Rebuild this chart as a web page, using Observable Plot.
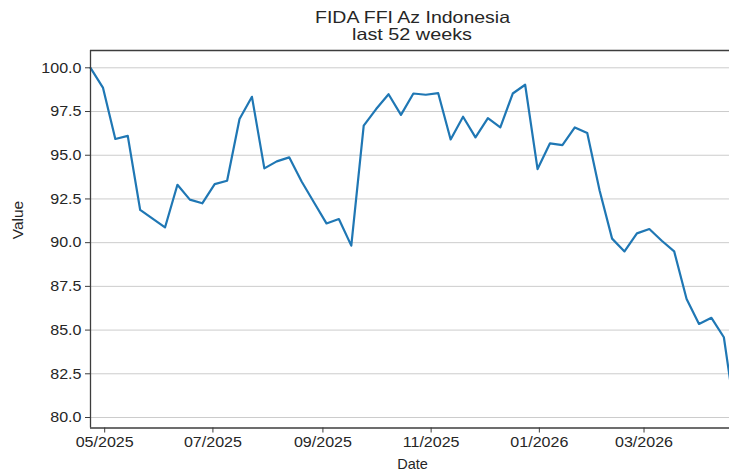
<!DOCTYPE html>
<html><head><meta charset="utf-8">
<script src="https://cdn.jsdelivr.net/npm/d3@7"></script>
<script src="https://cdn.jsdelivr.net/npm/@observablehq/plot@0.6"></script>
<style>
html,body{margin:0;padding:0;background:#fff;overflow:hidden;width:729px;height:476px}
#title{position:relative;height:44px;font-family:"Liberation Sans",Arial,sans-serif;color:#262626}
#title div{position:absolute;left:0;width:824.6px;text-align:center;font-size:16.5px;line-height:16px;white-space:nowrap}
#title span{display:inline-block;transform-origin:center}
</style></head>
<body>
<div id="title"><div style="top:9px"><span>FIDA FFI Az Indonesia</span></div><div style="top:25.5px"><span>last 52 weeks</span></div></div>
<div id="chart"></div>
<script>
const dates = ["2025-04-23","2025-04-30","2025-05-07","2025-05-14","2025-05-21","2025-05-28","2025-06-04","2025-06-11","2025-06-18","2025-06-25","2025-07-02","2025-07-09","2025-07-16","2025-07-23","2025-07-30","2025-08-06","2025-08-13","2025-08-20","2025-08-27","2025-09-03","2025-09-10","2025-09-17","2025-09-24","2025-10-01","2025-10-08","2025-10-15","2025-10-22","2025-10-29","2025-11-05","2025-11-12","2025-11-19","2025-11-26","2025-12-03","2025-12-10","2025-12-17","2025-12-24","2025-12-31","2026-01-07","2026-01-14","2026-01-21","2026-01-28","2026-02-04","2026-02-11","2026-02-18","2026-02-25","2026-03-04","2026-03-11","2026-03-18","2026-03-25","2026-04-01","2026-04-08","2026-04-15","2026-04-21"];
const values = [100.0,98.87,95.93,96.11,91.87,91.37,90.87,93.31,92.46,92.25,93.35,93.54,97.07,98.34,94.25,94.65,94.88,93.5,92.3,91.1,91.35,89.83,96.69,97.64,98.49,97.31,98.53,98.46,98.55,95.9,97.2,96.02,97.12,96.59,98.53,99.03,94.21,95.68,95.58,96.59,96.27,92.97,90.23,89.5,90.53,90.78,90.11,89.5,86.78,85.35,85.7,84.59,80.4];
const yTicks = [80,82.5,85,87.5,90,92.5,95,97.5,100];
const xTickLabels = ["05/2025","07/2025","09/2025","11/2025","01/2026","03/2026"];
const yDomain = [79.4, 100.99];
const xDomain = ["2025-04-23","2026-04-21"];

const parse = d3.utcParse("%Y-%m-%d");
const parseTick = d3.utcParse("%m/%Y");
const data = dates.map((d,i)=>({date: parse(d), value: values[i]}));
const xTicks = xTickLabels.map(parseTick);
const xd = xDomain.map(parse);
const spine = "#3d3d3d";
const ink = "#262626";

const chart = Plot.plot({
  width: 729, height: 432,
  marginLeft: 90, marginRight: 0, marginTop: 6, marginBottom: 48.5,
  style: {fontFamily: '"Liberation Sans", Arial, sans-serif', fontSize: "15px", color: ink, background: "#fff", overflow: "hidden", maxWidth: "none"},
  x: {type: "utc", domain: xd, range: [90, 734]},
  y: {domain: yDomain},
  marks: [
    Plot.ruleY(yTicks, {stroke: "#cccccc", strokeWidth: 1, strokeOpacity: 1}),
    Plot.line(data, {x: "date", y: "value", stroke: "#1f77b4", strokeWidth: 2.2}),
    Plot.ruleX([xd[0]], {stroke: spine, strokeWidth: 1.3}),
    Plot.ruleY([yDomain[0], yDomain[1]], {stroke: spine, strokeWidth: 1.3}),
    Plot.axisY({ticks: yTicks, tickFormat: d => d.toFixed(1), tickSize: 5, tickPadding: 4, label: null, stroke: spine, strokeOpacity: 1, fill: ink, fontSize: 15}),
    Plot.axisX({ticks: xTicks, tickFormat: d3.utcFormat("%m/%Y"), tickSize: 5, tickPadding: 3, label: null, stroke: spine, strokeOpacity: 1, fill: ink, fontSize: 15}),
    Plot.text(["Date"], {frameAnchor: "bottom", dy: 36.3, dx: 2.5, lineAnchor: "middle", fill: ink, fontSize: 14.5}),
    Plot.text(["Value"], {frameAnchor: "left", rotate: -90, dx: -72, lineAnchor: "middle", fill: ink, fontSize: 15.5})
  ]
});
document.getElementById("chart").appendChild(chart);

// widen tick labels slightly to match the reference's glyph widths
chart.querySelectorAll('g[aria-label$="tick label"] text').forEach(t => {
  const w = t.getComputedTextLength();
  t.setAttribute("textLength", (w * 1.07).toFixed(2));
  t.setAttribute("lengthAdjust", "spacingAndGlyphs");
});
// widen title lines to the reference's width
document.querySelectorAll("#title span").forEach((s, i) => {
  const target = i === 0 ? 195 : 120;
  s.style.transform = `scaleX(${target / s.getBoundingClientRect().width})`;
});
</script>
</body></html>
